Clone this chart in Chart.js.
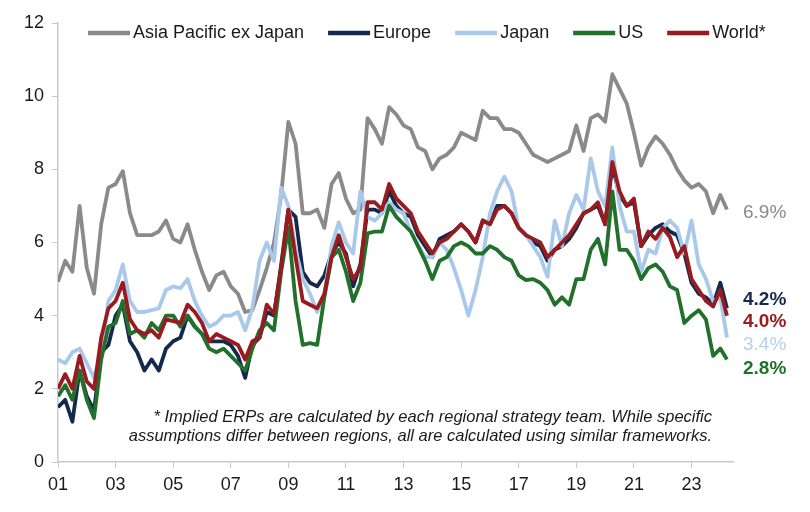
<!DOCTYPE html>
<html>
<head>
<meta charset="utf-8">
<style>
  html, body { margin: 0; padding: 0; background: #fff; }
  #wrap { width: 810px; height: 512px; }
</style>
<script src="https://cdn.jsdelivr.net/npm/chart.js@4.4.1/dist/chart.umd.min.js"></script>
</head>
<body>
<div id="wrap"><canvas id="erp" width="810" height="512"></canvas></div>
<script>
// quarterly observation dates (decimal years), last point is the latest reading
const periods = [];
for (let i = 0; i <= 92; i++) periods.push(2001 + i / 4);
periods.push(2024.23);

const seriesNames = ['Asia Pacific ex Japan', 'Europe', 'Japan', 'US', 'World*'];

const asiaPacExJapan = [
  4.93, 5.5, 5.2, 7.0,   5.3, 4.6, 6.5, 7.5,   7.6, 7.95, 6.8, 6.2,
  6.2, 6.2, 6.3, 6.6,    6.1, 6.0, 6.5, 5.8,   5.2, 4.7, 5.1, 5.2,
  4.8, 4.6, 4.1, 4.15,   4.7, 5.3, 6.0, 7.3,   9.3, 8.7, 6.8, 6.8,
  6.9, 6.4, 7.6, 7.9,    7.2, 6.8, 6.9, 9.4,   9.1, 8.7, 9.7, 9.5,
  9.2, 9.1, 8.6, 8.5,    8.0, 8.3, 8.4, 8.6,   9.0, 8.9, 8.8, 9.6,
  9.4, 9.4, 9.1, 9.1,    9.0, 8.7, 8.4, 8.3,   8.2, 8.3, 8.4, 8.5,
  9.2, 8.5, 9.4, 9.5,    9.3, 10.6, 10.2, 9.8, 9.0, 8.1, 8.6, 8.9,
  8.7, 8.4, 8.0, 7.7,    7.5, 7.6, 7.4, 6.8,   7.3, 6.9
];
const europe = [
  1.5, 1.7, 1.1, 2.5,    1.8, 1.4, 3.0, 3.2,   4.0, 4.3, 3.3, 3.0,
  2.5, 2.8, 2.5, 3.1,    3.3, 3.4, 4.0, 3.7,   3.5, 3.3, 3.3, 3.3,
  3.2, 2.9, 2.3, 3.2,    3.4, 4.1, 4.0, 5.4,   6.9, 6.7, 5.2, 4.9,
  4.8, 5.1, 5.7, 6.0,    5.7, 4.8, 5.4, 6.9,   6.9, 6.8, 7.4, 7.0,
  6.8, 6.7, 6.2, 5.9,    5.6, 6.1, 6.2, 6.3,   6.5, 6.3, 6.0, 6.6,
  6.5, 7.0, 7.0, 6.8,    6.4, 6.2, 6.0, 5.9,   5.5, 5.8, 5.9, 6.1,
  6.4, 6.8, 6.9, 7.0,    6.5, 8.1, 7.3, 7.0,   7.1, 5.9, 6.2, 6.4,
  6.5, 6.3, 6.2, 5.7,    4.9, 4.6, 4.5, 4.3,   4.9, 4.2
];
const japan = [
  2.8, 2.7, 3.0, 3.1,    2.7, 2.3, 3.0, 4.4,   4.7, 5.4, 4.4, 4.1,
  4.1, 4.15, 4.2, 4.7,   4.8, 4.75, 5.0, 4.4,  4.0, 3.7, 3.8, 4.0,
  4.0, 4.1, 3.6, 4.2,    5.5, 6.0, 5.5, 7.5,   7.0, 5.8, 5.0, 4.6,
  4.1, 4.6, 5.9, 6.55,   6.0, 5.7, 7.4, 6.7,   6.6, 6.8, 7.1, 6.9,
  6.8, 6.3, 5.95, 5.6,   5.6, 6.0, 5.8, 5.3,   4.7, 4.0, 4.7, 5.6,
  6.8, 7.4, 7.8, 7.4,    6.4, 6.2, 5.9, 5.6,   5.06, 6.6, 5.9, 6.8,
  7.3, 6.9, 8.3, 7.4,    7.0, 8.6, 7.0, 6.3,   6.3, 5.2, 5.8, 5.7,
  6.4, 6.6, 6.4, 5.7,    6.6, 5.4, 5.0, 4.4,   4.5, 3.4
];
const us = [
  1.8, 2.1, 1.7, 2.5,    1.7, 1.2, 2.8, 3.7,   3.8, 4.4, 3.5, 3.6,
  3.4, 3.8, 3.6, 4.0,    4.0, 3.7, 4.0, 3.7,   3.5, 3.1, 3.0, 3.1,
  2.9, 2.7, 2.5, 3.1,    3.6, 3.8, 3.6, 5.2,   6.4, 4.4, 3.2, 3.25,
  3.2, 4.5, 5.6, 5.8,    5.2, 4.4, 4.9, 6.25,  6.3, 6.3, 7.0, 6.7,
  6.5, 6.3, 5.9, 5.5,    5.0, 5.5, 5.6, 5.9,   6.0, 5.9, 5.7, 5.7,
  5.9, 5.8, 5.6, 5.5,    5.1, 4.97, 5.0, 4.9,  4.7, 4.3, 4.5, 4.3,
  5.0, 5.0, 5.8, 6.1,    5.4, 7.4, 5.8, 5.8,   5.5, 5.0, 5.3, 5.4,
  5.2, 4.8, 4.7, 3.8,    4.0, 4.15, 3.9, 2.9,  3.1, 2.8
];
const world = [
  2.0, 2.4, 2.0, 2.9,    2.2, 2.0, 3.4, 4.2,   4.4, 4.9, 3.9, 3.6,
  3.5, 3.6, 3.4, 3.9,    3.85, 3.8, 4.3, 4.1,  3.8, 3.3, 3.5, 3.4,
  3.3, 3.2, 2.8, 3.3,    3.4, 4.3, 4.05, 5.3,  6.9, 5.6, 4.4, 4.3,
  4.2, 4.6, 5.6, 6.2,    5.6, 5.0, 5.3, 7.1,   7.1, 6.9, 7.6, 7.2,
  7.0, 6.8, 6.3, 6.0,    5.7, 6.0, 6.1, 6.3,   6.5, 6.3, 6.0, 6.6,
  6.5, 6.9, 7.0, 6.8,    6.4, 6.2, 6.1, 6.0,   5.6, 5.8, 6.0, 6.2,
  6.5, 6.8, 6.9, 7.1,    6.5, 8.2, 7.4, 7.0,   7.2, 5.9, 6.3, 6.1,
  6.4, 6.15, 5.6, 5.9,   5.0, 4.7, 4.4, 4.25,  4.7, 4.0
];

// latest readings shown at the right edge
const endLabels = ['6.9%', '4.2%', '4.0%', '3.4%', '2.8%'];
const endValues = [6.9, 4.2, 4.0, 3.4, 2.8];

const xTickYears = [2001, 2003, 2005, 2007, 2009, 2011, 2013, 2015, 2017, 2019, 2021, 2023];
const footnoteLines = [
  '* Implied ERPs are calculated by each regional strategy team. While specific',
  'assumptions differ between regions, all are calculated using similar frameworks.'
];

const seriesColors = ['#8a8a8a', '#15294e', '#a9c9ea', '#22702b', '#981b20'];
const endLabelColors = ['#8a8a8a', '#15294e', '#981b20', '#b5d0ec', '#22702b'];
const FONT = '"Liberation Sans", Arial, sans-serif';

const overlay = {
  id: 'overlay',
  afterDraw(chart) {
    const ctx = chart.ctx;
    const yScale = chart.scales.y;
    ctx.save();

    // legend across the top of the plot
    ctx.font = '18px ' + FONT;
    ctx.textBaseline = 'middle';
    ctx.textAlign = 'left';
    let x = 88;
    const ly = 33;
    seriesNames.forEach((name, i) => {
      ctx.strokeStyle = seriesColors[i];
      ctx.lineWidth = 4.5;
      ctx.beginPath();
      ctx.moveTo(x, ly);
      ctx.lineTo(x + 42, ly);
      ctx.stroke();
      x += 45;
      ctx.fillStyle = '#1a1a1a';
      ctx.fillText(name, x, ly);
      x += ctx.measureText(name).width + 24;
    });

    // end-of-series value labels
    const nudges = [3.5, -9, 6.5, 7.5, 9.5];
    const bold = [false, true, true, false, true];
    endLabels.forEach((txt, i) => {
      ctx.font = (bold[i] ? 'bold ' : '') + '19px ' + FONT;
      ctx.fillStyle = endLabelColors[i];
      ctx.fillText(txt, 743, yScale.getPixelForValue(endValues[i]) + nudges[i]);
    });

    // footnote
    ctx.font = 'italic 16.5px ' + FONT;
    ctx.fillStyle = '#1a1a1a';
    ctx.textAlign = 'right';
    ctx.textBaseline = 'alphabetic';
    ctx.fillText(footnoteLines[0], 712, 422);
    ctx.fillText(footnoteLines[1], 712, 441);
    ctx.restore();
  }
};

const seriesData = [asiaPacExJapan, europe, japan, us, world];
const drawOrder = [5, 4, 3, 2, 1];

new Chart(document.getElementById('erp'), {
  type: 'line',
  data: {
    labels: periods,
    datasets: seriesData.map((vals, i) => ({
      label: seriesNames[i],
      data: vals,
      borderColor: seriesColors[i],
      backgroundColor: seriesColors[i],
      borderWidth: 3.8,
      borderJoinStyle: 'round',
      pointRadius: 0,
      tension: 0,
      order: drawOrder[i]
    }))
  },
  options: {
    responsive: false,
    animation: false,
    events: [],
    layout: { padding: { top: 23, right: 77, left: 0, bottom: 0 } },
    plugins: { legend: { display: false }, tooltip: { enabled: false } },
    scales: {
      x: {
        type: 'linear',
        min: 2001,
        max: 2024.44,
        afterBuildTicks: (scale) => { scale.ticks = xTickYears.map(v => ({ value: v })); },
        afterFit: (scale) => { scale.height = 50; },
        grid: { display: true, drawOnChartArea: false, drawTicks: true, tickLength: 6, color: '#c9c9c9' },
        border: { display: true, color: '#c9c9c9', width: 1.5 },
        ticks: {
          autoSkip: false,
          maxRotation: 0,
          padding: 6,
          color: '#1a1a1a',
          font: { family: FONT, size: 18 },
          callback: (v) => String(v % 100).padStart(2, '0')
        }
      },
      y: {
        min: 0,
        max: 12,
        afterFit: (scale) => { scale.width = 58; },
        grid: { display: true, drawOnChartArea: false, drawTicks: true, tickLength: 6, color: '#c9c9c9' },
        border: { display: true, color: '#c9c9c9', width: 1.5 },
        ticks: {
          stepSize: 2,
          padding: 8,
          color: '#1a1a1a',
          font: { family: FONT, size: 18 }
        }
      }
    }
  },
  plugins: [overlay]
});
</script>
</body>
</html>
